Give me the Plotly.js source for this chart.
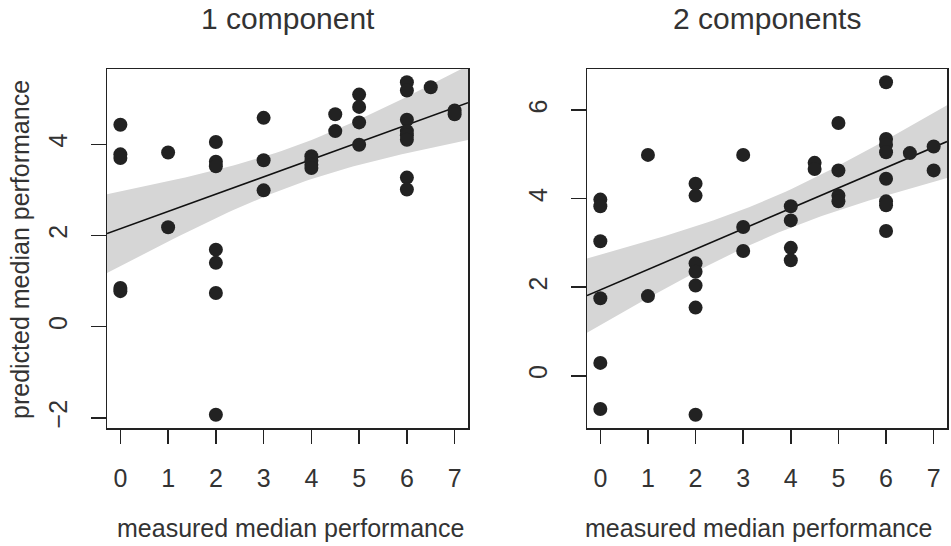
<!DOCTYPE html>
<html>
<head>
<meta charset="utf-8">
<script src="https://cdn.plot.ly/plotly-3.0.1.min.js"></script>
<style>
  html, body { margin: 0; padding: 0; background: #fff; }
  #chart { width: 951px; height: 546px; }
</style>
</head>
<body>
<div id="chart"></div>
<script>
// measured vs predicted median performance

// 1 component
const x1 = [0, 0, 0, 0, 0,
            1, 1,
            2, 2, 2, 2, 2, 2, 2,
            3, 3, 3,
            4, 4, 4, 4,
            4.5, 4.5,
            5, 5, 5, 5,
            6, 6, 6, 6, 6, 6, 6, 6,
            6.5,
            7, 7];
const y1 = [4.43, 3.78, 3.70, 0.85, 0.78,
            3.82, 2.18,
            4.05, 3.62, 3.52, 1.69, 1.40, 0.74, -1.93,
            4.58, 3.65, 2.99,
            3.74, 3.64, 3.55, 3.48,
            4.66, 4.29,
            5.09, 4.82, 4.48, 3.99,
            5.36, 5.18, 4.54, 4.29, 4.20, 4.10, 3.27, 3.01,
            5.25,
            4.74, 4.66];

// 2 components
const x2 = [0, 0, 0, 0, 0, 0,
            1, 1,
            2, 2, 2, 2, 2, 2, 2,
            3, 3, 3,
            4, 4, 4, 4,
            4.5, 4.5,
            5, 5, 5, 5,
            6, 6, 6, 6, 6, 6, 6, 6,
            6.5,
            7, 7];
const y2 = [3.98, 3.83, 3.04, 1.75, 0.29, -0.75,
            4.99, 1.80,
            4.34, 4.07, 2.54, 2.35, 2.04, 1.54, -0.88,
            4.99, 3.36, 2.82,
            3.83, 3.51, 2.89, 2.61,
            4.81, 4.67,
            5.71, 4.64, 4.07, 3.94,
            6.63, 5.35, 5.22, 5.05, 4.45, 3.94, 3.85, 3.27,
            5.03,
            5.18, 4.64];

const xTicks = [0, 1, 2, 3, 4, 5, 6, 7];
const yTicks1 = [-2, 0, 2, 4];
const yTicks2 = [0, 2, 4, 6];
const titles = ['1 component', '2 components'];
const xLabel = 'measured median performance';
const yLabel = 'predicted median performance';

// R-style axis range: data range padded by 4%
function rng(a) {
  let lo = Math.min(...a), hi = Math.max(...a);
  let d = (hi - lo) * 0.04;
  return [lo - d, hi + d];
}

// least squares line with 95% confidence band for the mean
function fitBand(x, y, xr) {
  const n = x.length;
  const mx = x.reduce((s, v) => s + v, 0) / n;
  const my = y.reduce((s, v) => s + v, 0) / n;
  let sxx = 0, sxy = 0;
  for (let i = 0; i < n; i++) {
    sxx += (x[i] - mx) ** 2;
    sxy += (x[i] - mx) * (y[i] - my);
  }
  const b = sxy / sxx, a = my - b * mx;
  let sse = 0;
  for (let i = 0; i < n; i++) sse += (y[i] - a - b * x[i]) ** 2;
  const s = Math.sqrt(sse / (n - 2));
  const t = 2.026; // t(0.975, 37)
  let gx = [], gy = [], lo = [], hi = [];
  const steps = 60;
  for (let k = 0; k <= steps; k++) {
    const xx = xr[0] + (xr[1] - xr[0]) * k / steps;
    const yy = a + b * xx;
    const se = s * Math.sqrt(1 / n + (xx - mx) ** 2 / sxx);
    gx.push(xx); gy.push(yy); lo.push(yy - t * se); hi.push(yy + t * se);
  }
  return {gx, gy, lo, hi};
}

const W = 951, H = 546;
const ink = '#222222';
const txt = '#333333';
const font = 'Liberation Sans, Arial, sans-serif';

let traces = [];
const panels = [[x1, y1, 'x', 'y'], [x2, y2, 'x2', 'y2']];
panels.forEach(([xs, ys, xa, ya]) => {
  const f = fitBand(xs, ys, rng(xs));
  traces.push({
    x: f.gx.concat(f.gx.slice().reverse()),
    y: f.hi.concat(f.lo.slice().reverse()),
    xaxis: xa, yaxis: ya, type: 'scatter', mode: 'lines',
    fill: 'toself', fillcolor: '#d6d6d6', line: {width: 0},
    hoverinfo: 'skip', showlegend: false
  });
  traces.push({
    x: f.gx, y: f.gy, xaxis: xa, yaxis: ya, type: 'scatter', mode: 'lines',
    line: {color: '#111', width: 1.6}, showlegend: false
  });
  traces.push({
    x: xs, y: ys, xaxis: xa, yaxis: ya, type: 'scatter', mode: 'markers',
    marker: {color: ink, size: 14}, showlegend: false
  });
});

function axisX(dom, r) {
  return {
    domain: dom, range: r, tickvals: xTicks, ticktext: xTicks.map(String),
    showgrid: false, zeroline: false, showline: true, mirror: true,
    linecolor: ink, linewidth: 1.5, ticks: 'outside', ticklen: 14,
    tickwidth: 1.5, tickcolor: ink, ticklabelstandoff: 13,
    tickfont: {size: 25, color: txt, family: font}
  };
}
function axisY(dom, r, tv, anchor) {
  return {
    domain: dom, range: r, tickvals: tv, ticktext: tv.map(v => v < 0 ? '\u2212' + (-v) : String(v)),
    showgrid: false, zeroline: false, showline: true, mirror: true,
    linecolor: ink, linewidth: 1.5, ticks: 'outside', ticklen: 15,
    tickwidth: 1.5, tickcolor: ink, tickangle: -90, ticklabelstandoff: 14,
    tickfont: {size: 25, color: txt, family: font}, anchor: anchor
  };
}

function note(text, px, py, size, angle) {
  return {text: text, x: px / W, y: 1 - py / H, xref: 'paper', yref: 'paper',
          xanchor: 'center', yanchor: 'middle', showarrow: false,
          textangle: angle || 0, font: {size: size, color: txt, family: font}};
}

const yDom = [1 - 428 / H, 1 - 69 / H];
const layout = {
  width: W, height: H,
  margin: {l: 0, r: 0, t: 0, b: 0},
  paper_bgcolor: '#fff', plot_bgcolor: '#fff',
  showlegend: false,
  xaxis: Object.assign(axisX([107 / W, 468 / W], rng(x1)), {anchor: 'y'}),
  yaxis: axisY(yDom, rng(y1), yTicks1, 'x'),
  xaxis2: Object.assign(axisX([587 / W, 947 / W], rng(x2)), {anchor: 'y2'}),
  yaxis2: axisY(yDom, rng(y2), yTicks2, 'x2'),
  annotations: [
    note(titles[0], 288, 19, 30),
    note(titles[1], 767, 19, 30),
    note(xLabel, 290, 528, 25),
    note(xLabel, 758, 528, 25),
    note(yLabel, 20, 250, 25, -90)
  ]
};

Plotly.newPlot('chart', traces, layout, {staticPlot: true});
</script>
</body>
</html>
